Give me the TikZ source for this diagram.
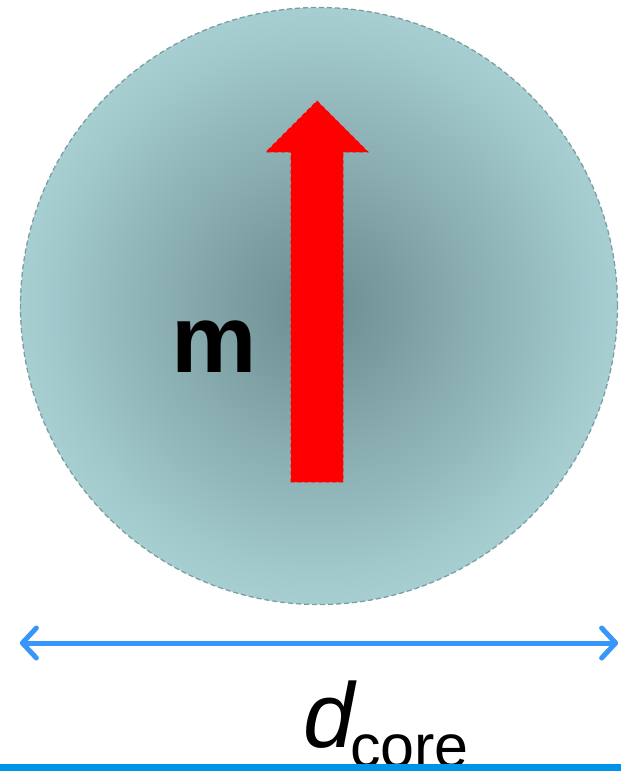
\documentclass[tikz,border=0pt]{standalone}
\usepackage{fontspec}
\setmainfont{Liberation Sans}
\usetikzlibrary{arrows.meta,positioning}
\definecolor{coredark}{RGB}{108,140,144}
\definecolor{coreedge}{RGB}{167,207,210}
\definecolor{rim}{RGB}{122,158,162}
\definecolor{spin}{RGB}{255,0,0}
\definecolor{ruler}{RGB}{55,150,250}
\definecolor{floorline}{RGB}{0,148,232}
\pgfdeclareradialshading{coreglow}{\pgfpoint{0bp}{0bp}}{%
  color(0bp)=(coredark); color(25bp)=(coreedge); color(50bp)=(coreedge)}
\tikzset{
  >={Straight Barb[length=14pt,width=30pt,round]},
  particle/.style={circle,minimum size=597pt,inner sep=0pt,shade,shading=coreglow,
    draw=rim,line width=1.3pt,dash pattern=on 5pt off 3pt},
  moment/.style={fill=spin,draw=spin,line width=0.8pt,dash pattern=on 4pt off 3pt},
  sizebar/.style={<->,draw=ruler,line width=5pt,line cap=round},
  big/.style={inner sep=0pt,anchor=base west},
}
\begin{document}
\begin{tikzpicture}[x=1pt,y=-1pt]
  \useasboundingbox (0,0) rectangle (621,771);
  \node[particle] (core) at (319,306) {};
  % magnetic moment
  \path[moment] (291,482) -- (291,152) -- (266,152) -- (317,101) -- (368,152)
    -- (343,152) -- (343,482) -- cycle;
  \node[big,font=\fontsize{96}{96}\selectfont\bfseries] (mlabel) at (171,372) {m};
  % diameter
  \coordinate (dl) at (core.west |- 0,643);
  \coordinate (dr) at (core.east |- 0,643);
  \draw[sizebar] (dl) -- (dr);
  \node[big,font=\fontsize{92}{92}\selectfont\itshape] (dsym) at (303,747) {d};
  \node[big,font=\fontsize{61}{61}\selectfont] (dsub) at (350,767) {core};
  \fill[floorline] (0,764) rectangle (621,771);
\end{tikzpicture}
\end{document}
